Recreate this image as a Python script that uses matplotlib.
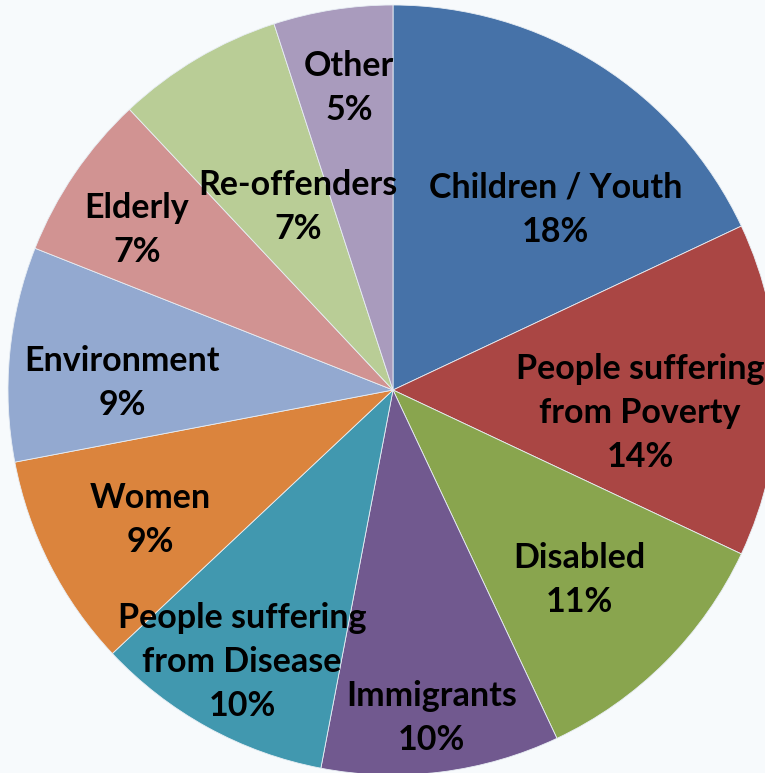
import matplotlib
matplotlib.use("Agg")
import matplotlib.pyplot as plt

categories = ["Children / Youth", "People suffering\nfrom Poverty", "Disabled", "Immigrants",
              "People suffering\nfrom Disease", "Women", "Environment", "Elderly",
              "Re-offenders", "Other"]
values = [18, 14, 11, 10, 10, 9, 9, 7, 7, 5]
colors = ["#4672A8", "#AA4644", "#89A54E", "#71598F", "#4198AF", "#DB843D",
          "#93A9D0", "#D19392", "#B9CD96", "#A99BBD"]
label_pos = [(0.423, 0.468), (0.642, -0.060), (0.483, -0.494), (0.101, -0.852),
             (-0.392, -0.706), (-0.631, -0.338), (-0.704, 0.018), (-0.665, 0.416),
             (-0.247, 0.475), (-0.114, 0.784)]

W, H = 765, 773
cx, cy, R = 393, 390, 385
bg = "#F7FAFC"
fig = plt.figure(figsize=(W / 100, H / 100), dpi=100, facecolor=bg)
ax = fig.add_axes([0, 0, 1, 1])
ax.set_facecolor(bg)
ax.pie(values, colors=colors, startangle=90, counterclock=False, radius=1,
       wedgeprops=dict(edgecolor="#E8EEF4", linewidth=0.6))
ax.set_aspect("auto")
ax.set_xlim(-cx / R, (W - cx) / R)
ax.set_ylim(-(H - cy) / R, cy / R)
ax.axis("off")

total = sum(values)
for cat, v, (x, y) in zip(categories, values, label_pos):
    ax.text(x, y, f"{cat}\n{round(100 * v / total)}%", ha="center", va="center",
            fontsize=24.5, fontweight="bold", family=["Lato", "DejaVu Sans"],
            linespacing=1.45, color="black")

fig.savefig("out.png", dpi=100, facecolor=bg)
